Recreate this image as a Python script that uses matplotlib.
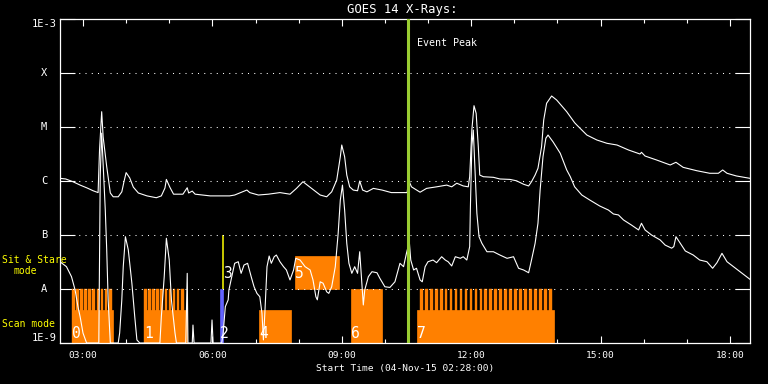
import matplotlib
matplotlib.use("Agg")
import matplotlib.pyplot as plt
from matplotlib.ticker import FixedLocator, NullLocator
import numpy as np

# ---------------- data ----------------
t_start = "02:28"
t_end = "18:28"
event_peak = "10:31:48"

# GOES long channel (1-8 A), flux in units of 1e-6 W/m^2
long_times = ['02:28','02:36','02:46','02:56','03:06','03:14','03:21','03:23','03:26','03:28',
              '03:33','03:38','03:42','03:49','03:54','03:57','04:00','04:05','04:10','04:17',
              '04:29','04:42','04:49','04:54','04:56','05:01','05:06','05:19','05:25','05:27',
              '05:32','05:36','05:57','06:24','06:31','06:48','06:52','07:04','07:18','07:34',
              '07:48','07:57','08:06','08:18','08:30','08:39','08:46','08:53','08:58','09:00',
              '09:04','09:07','09:11','09:16','09:22','09:25','09:29','09:35','09:44','09:56',
              '10:09','10:28','10:31','10:33','10:37','10:49','10:58','11:12','11:26','11:33',
              '11:40','11:49','11:56','11:58','12:01','12:04','12:07','12:10','12:12','12:17',
              '12:31','12:40','12:54','13:03','13:13','13:20','13:24','13:29','13:33','13:38',
              '13:41','13:45','13:52','13:59','14:13','14:24','14:27','14:41','14:55','15:09',
              '15:23','15:39','15:55','15:57','16:02','16:18','16:37','16:45','16:55','17:14',
              '17:32','17:44','17:50','17:56','18:09','18:28']
long_flux_u = [1.12,1.09,0.97,0.84,0.74,0.66,0.61,3.75,19.2,6.6,
               1.84,0.60,0.51,0.51,0.63,0.97,1.43,1.14,0.77,0.60,
               0.53,0.49,0.53,0.74,1.07,0.76,0.57,0.57,0.75,0.60,
               0.65,0.57,0.53,0.53,0.55,0.68,0.61,0.55,0.57,0.61,
               0.57,0.73,0.97,0.73,0.55,0.51,0.63,1.04,2.82,4.64,
               2.82,1.29,0.78,0.68,0.66,1.0,0.68,0.63,0.73,0.68,
               0.61,0.61,0.61,1.04,0.78,0.62,0.73,0.78,0.84,0.78,
               0.91,0.81,0.78,1.2,8.8,24.8,17.9,4.3,1.29,1.2,
               1.17,1.09,1.07,1.01,0.87,0.81,0.97,1.29,1.72,4.3,
               13.5,27.5,37.5,31.6,19.2,12.0,10.9,7.1,5.74,4.99,
               4.64,3.75,3.16,3.4,2.9,2.45,1.98,2.22,1.79,1.55,
               1.39,1.39,1.6,1.39,1.24,1.12]

# GOES short channel (0.5-4 A), flux in W/m^2
short_times = ['02:28','02:37','02:44','02:49','02:53','02:56','03:00','03:05','03:22','03:24',
               '03:26','03:31','03:33','03:35','03:38','03:49','03:51','03:54','03:56','03:59',
               '04:03','04:08','04:12','04:15','04:19','04:47','04:49','04:53','04:56','05:00',
               '05:03','05:08','05:10','05:23','05:25','05:26','05:32','05:33','05:34:30','05:58',
               '05:59:30','06:01','06:13','06:15','06:18','06:22','06:23','06:27','06:31','06:36',
               '06:40','06:44','06:49','06:54','06:58','07:02','07:06','07:09','07:11','07:13',
               '07:16','07:19','07:22','07:26','07:29','07:34','07:39','07:43','07:48','07:53',
               '07:56','08:02','08:09','08:16','08:20','08:24','08:26','08:30','08:34','08:39',
               '08:42','08:46','08:51','08:55','08:58','09:01','09:04','09:07','09:10','09:14',
               '09:18','09:22','09:25','09:28','09:30','09:32','09:37','09:42','09:49','09:53',
               '10:00','10:07','10:14','10:21','10:26','10:30','10:34','10:36','10:40','10:44',
               '10:49','10:52','10:56','11:00','11:07','11:12','11:19','11:24','11:28','11:33',
               '11:38','11:45','11:49','11:54','11:58','11:59','12:01','12:03','12:05','12:08',
               '12:11','12:15','12:22','12:31','12:40','12:50','12:59','13:06','13:13','13:20',
               '13:24','13:29','13:33','13:36','13:40','13:44','13:47','13:54','14:04','14:13',
               '14:18','14:24','14:34','14:45','14:59','15:11','15:18','15:25','15:32','15:43',
               '15:53','15:57','16:02','16:11','16:23','16:30','16:39','16:42','16:45','16:51',
               '16:58','17:09','17:18','17:28','17:32','17:36','17:42','17:49','17:56','18:05',
               '18:14','18:28']
short_flux = [3.2e-8,2.59e-8,1.69e-8,9.6e-9,4.7e-9,3.07e-9,1.53e-9,1e-9,1e-9,1.29e-6,
              7.7e-6,2.9e-7,5.3e-8,6.3e-9,1e-9,1e-9,1.53e-9,6.3e-9,2.59e-8,9.3e-8,
              5.3e-8,1.28e-8,3.07e-9,1.14e-9,1e-9,1e-9,3.07e-9,1.69e-8,8.7e-8,3.44e-8,
              6.3e-9,1.53e-9,1e-9,1e-9,1.95e-8,1e-9,1e-9,2.15e-9,1e-9,1e-9,
              2.67e-9,1e-9,1e-9,1.53e-9,4.7e-9,6.3e-9,9.6e-9,1.69e-8,2.99e-8,3.2e-8,
              1.95e-8,2.78e-8,2.99e-8,1.69e-8,1.1e-8,8.3e-9,7.2e-9,3.55e-9,1.14e-9,3.55e-9,
              2.59e-8,4.08e-8,2.99e-8,3.96e-8,4.26e-8,3.2e-8,2.59e-8,2.25e-8,1.47e-8,2.25e-8,
              3.7e-8,3.44e-8,2.59e-8,2.25e-8,1.47e-8,7.2e-9,6.3e-9,1.36e-8,1.28e-8,8.9e-9,
              8.3e-9,1.1e-8,2.59e-8,1.07e-7,4.45e-7,8.4e-7,2.9e-7,7.0e-8,2.99e-8,1.95e-8,
              2.59e-8,1.95e-8,4.9e-8,1.28e-8,5.06e-9,9.6e-9,1.69e-8,2.09e-8,2.0e-8,1.58e-8,
              1.1e-8,1.07e-8,1.36e-8,2.99e-8,2.59e-8,4.58e-8,7.5e-8,3.44e-8,2.25e-8,2.42e-8,
              1.47e-8,1.36e-8,2.59e-8,3.2e-8,3.44e-8,3.07e-8,3.96e-8,3.44e-8,3.2e-8,2.67e-8,
              3.96e-8,3.7e-8,3.96e-8,3.44e-8,6.1e-8,3.34e-7,4.3e-6,8.8e-6,2.13e-6,2.52e-7,
              9.3e-8,7.0e-8,4.9e-8,4.9e-8,4.26e-8,3.7e-8,3.96e-8,2.42e-8,2.25e-8,2.0e-8,
              3.44e-8,7.0e-8,1.65e-7,6.8e-7,2.82e-6,6.2e-6,7.1e-6,5.3e-6,3.26e-6,1.6e-6,
              1.2e-6,7.8e-7,5.5e-7,4.45e-7,3.44e-7,2.9e-7,2.45e-7,2.35e-7,1.9e-7,1.53e-7,
              1.24e-7,1.65e-7,1.24e-7,1.0e-7,8.1e-8,6.5e-8,5.7e-8,6.1e-8,9.3e-8,7.0e-8,
              5.06e-8,4.26e-8,3.44e-8,3.2e-8,2.78e-8,2.42e-8,3.07e-8,4.58e-8,3.2e-8,2.59e-8,
              2.09e-8,1.51e-8]

# IRIS observation blocks
block_labels = ['0', '1', '2', '3', '4', '5', '6', '7']
block_starts = ['02:44:42', '04:24:54', '06:10:36', '06:15:12', '07:04:54', '07:55:00', '09:12:54', '10:44:18']
block_ends   = ['03:42:12', '05:24:00', '06:14:48', '06:15:12', '07:49:00', '08:55:48', '09:55:36', '13:55:18']
block_low    = [1e-9, 1e-9, 1e-9, 1e-8, 1e-9, 1e-8, 1e-9, 1e-9]
block_high   = [4.1e-9, 4.1e-9, 1e-8, 1e-7, 4.1e-9, 4.1e-8, 1e-8, 4.1e-9]
block_colors = ['#ff8000', '#ff8000', '#6464ff', '#ffff00', '#ff8000', '#ff8000', '#ff8000', '#ff8000']

# individual raster starts inside the scan blocks
raster_starts = ['02:44:42','02:50:24','02:56:06','03:01:48','03:07:30','03:13:12','03:18:54','03:24:36','03:30:18','03:36:00',
                 '04:24:54','04:30:36','04:36:18','04:42:00','04:47:42','04:53:24','04:59:06','05:04:48','05:10:30','05:16:12',
                 '10:48:54','10:55:48','11:02:42','11:09:36','11:16:30','11:23:24','11:30:18','11:37:12','11:44:06','11:51:00',
                 '11:57:54','12:04:48','12:11:42','12:18:36','12:25:30','12:32:24','12:39:18','12:46:12','12:53:06','13:00:00',
                 '13:06:54','13:13:48','13:20:42','13:27:36','13:34:30','13:41:24','13:48:18']
raster_minutes = 3.7
raster_low, raster_high = 1e-9, 1e-8

y_ticks = [1e-9, 1e-8, 1e-7, 1e-6, 1e-5, 1e-4, 1e-3]
y_labels = ['1E-9', 'A', 'B', 'C', 'M', 'X', '1E-3']
x_major = [3, 6, 9, 12, 15, 18]
x_major_labels = ['03:00', '06:00', '09:00', '12:00', '15:00', '18:00']
x_minor = list(range(3, 19))


def hrs(s):
    p = [float(v) for v in s.split(":")]
    while len(p) < 3:
        p.append(0.0)
    return p[0] + p[1] / 60.0 + p[2] / 3600.0


plt.rcParams['font.family'] = 'DejaVu Sans Mono'
WHITE = 'white'
YELLOW = '#ffff00'
ORANGE = '#ff8000'

fig = plt.figure(figsize=(7.68, 3.84), dpi=100, facecolor='black')
ax = fig.add_axes([60 / 768, 41 / 384, 690 / 768, 324 / 384])
ax.set_facecolor('black')
ax.set_yscale('log')
ax.set_xlim(hrs(t_start), hrs(t_end))
ax.set_ylim(1e-9, 1e-3)

# blocks
for lab, s, e, lo, hi, c in zip(block_labels, block_starts, block_ends, block_low, block_high, block_colors):
    w = hrs(e) - hrs(s)
    if w > 0:
        ax.bar(hrs(s), hi - lo, bottom=lo, width=w, align='edge', color=c,
               edgecolor=c, linewidth=0.5, zorder=2)
    else:
        ax.vlines(hrs(s), lo, hi, colors=c, linewidth=1.1, zorder=2)
    off = 3.6 if lo <= 1e-9 else 7.9
    ax.annotate(lab, xy=(hrs(s), lo), xytext=(0, off), textcoords='offset points',
                ha='left', va='baseline', color=WHITE, fontsize=10.5, zorder=7)

ax.bar([hrs(t) for t in raster_starts], raster_high - raster_low, bottom=raster_low,
       width=raster_minutes / 60.0, align='edge', color=ORANGE, edgecolor=ORANGE,
       linewidth=0.3, zorder=2)

# light curves
ax.plot([hrs(t) for t in long_times], np.array(long_flux_u) * 1e-6, color=WHITE, lw=0.8, zorder=3)
ax.plot([hrs(t) for t in short_times], short_flux, color=WHITE, lw=0.8, zorder=3)

# dotted class lines
for v in y_ticks[1:-1]:
    ax.axhline(v, color=WHITE, lw=0.75, linestyle=(0, (1, 5)), zorder=4)

# event peak
ax.axvline(hrs(event_peak), color='#9acd32', lw=2.2, zorder=5)
ax.annotate('Event Peak', xy=(hrs(event_peak), 0.926), xycoords=('data', 'axes fraction'),
            xytext=(6.8, 0), textcoords='offset points', ha='left', va='center',
            color=WHITE, fontsize=7.2, zorder=7)

# axes styling
for sp in ax.spines.values():
    sp.set_color(WHITE)
    sp.set_linewidth(0.9)
ax.xaxis.set_major_locator(FixedLocator(x_major))
ax.set_xticklabels(x_major_labels)
ax.xaxis.set_minor_locator(FixedLocator(x_minor))
ax.tick_params(axis='x', which='major', direction='in', length=5, width=0.8, color=WHITE,
               top=True, bottom=True, labelcolor=WHITE, labelsize=6.8, pad=5.4)
ax.tick_params(axis='x', which='minor', direction='in', length=2.6, width=0.8, color=WHITE,
               top=True, bottom=True)
ax.yaxis.set_major_locator(FixedLocator(y_ticks))
ax.yaxis.set_minor_locator(NullLocator())
ax.tick_params(axis='y', which='major', direction='in', length=10.8, width=0.8, color=WHITE,
               left=True, right=True, labelleft=False, labelright=False)

ytr = ax.get_yaxis_transform()
for v, lab in zip(y_ticks, y_labels):
    if lab.startswith('1E'):
        va = 'top' if v == y_ticks[-1] else 'bottom'
        ax.text(-0.0044, v, lab, transform=ytr, ha='right', va=va, color=WHITE, fontsize=7.5)
    else:
        ax.text(-0.0232, v, lab, transform=ytr, ha='center', va='center', color=WHITE, fontsize=7.5)

# figure texts
fig.text(402 / 768, 1 - 9.5 / 384, 'GOES 14 X-Rays:', ha='center', va='center', color=WHITE, fontsize=8.8)
fig.text(405 / 768, 1 - 368 / 384, 'Start Time (04-Nov-15 02:28:00)', ha='center', va='center',
         color=WHITE, fontsize=6.8)
fig.text(2 / 768, 1 - 260 / 384, 'Sit & Stare', ha='left', va='center', color=YELLOW, fontsize=7.05)
fig.text(13 / 768, 1 - 271 / 384, 'mode', ha='left', va='center', color=YELLOW, fontsize=7.05)
fig.text(2 / 768, 1 - 324 / 384, 'Scan mode', ha='left', va='center', color=YELLOW, fontsize=7.05)

fig.savefig('out.png', dpi=100, facecolor='black')
